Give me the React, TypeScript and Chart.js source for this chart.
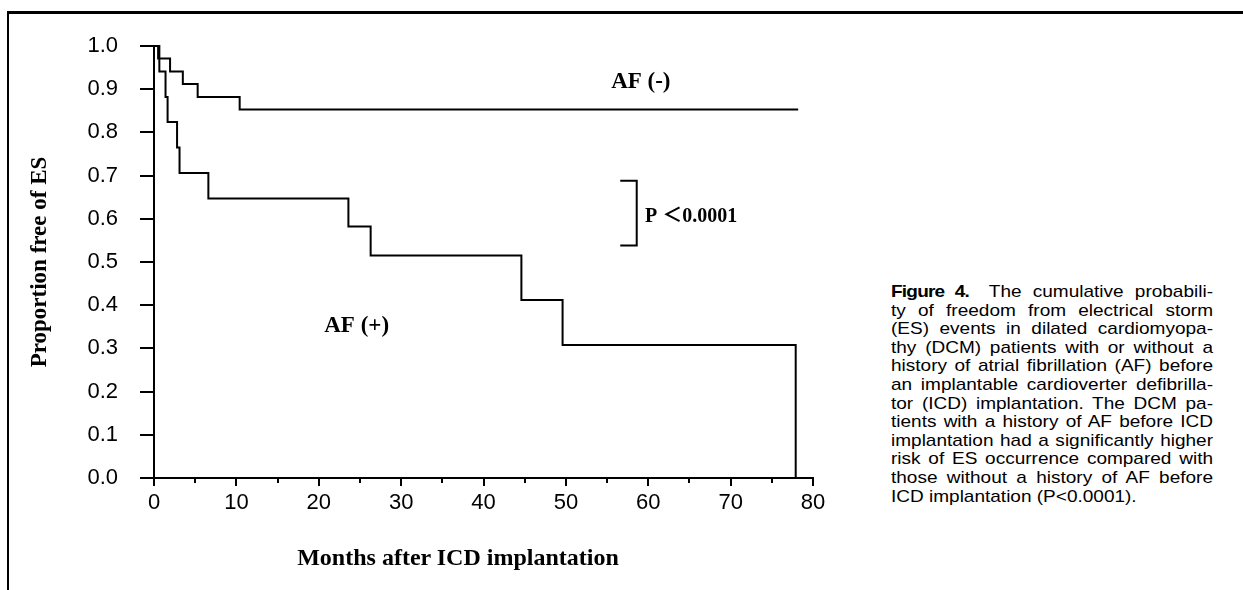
import React, { useEffect, useRef } from "react";
import { Chart, registerables } from "chart.js";

Chart.register(...registerables);

// ---- Data ----
const AF_NEG_MONTHS = [0, 0.5, 1.95, 3.5, 5.3, 10.4, 78.2];
const AF_NEG_SURV = [1, 0.971, 0.941, 0.912, 0.882, 0.853, 0.853];
const AF_POS_MONTHS = [0, 0.65, 1.4, 1.65, 2.8, 3.1, 6.6, 23.6, 26.3, 44.6, 49.6, 77.9];
const AF_POS_SURV = [1, 0.941, 0.882, 0.824, 0.765, 0.706, 0.647, 0.582, 0.515, 0.412, 0.308, 0];

const X_MIN = 0;
const X_MAX = 80;
const X_MAJOR_STEP = 10;
const X_MINOR_TICKS = [5, 15, 25, 35, 45, 55, 65, 75];
const Y_MIN = 0;
const Y_MAX = 1;
const Y_STEP = 0.1;

const SERIES_LABELS = ["AF (-)", "AF (+)"];
const P_TEXT = "P \uFF1C0.0001";
const X_TITLE = "Months after ICD implantation";
const Y_TITLE = "Proportion free of ES";

// annotation anchors in data units [month, proportion]
const LABEL_NEG_AT = [59.1, 0.917];
const LABEL_POS_AT = [24.6, 0.352];
const BRACKET_X = [56.6, 58.6];
const BRACKET_Y = [0.688, 0.538];
const P_TEXT_AT = [59.6, 0.604];

const CAPTION_HEAD = "Figure 4.";
const CAPTION_LINES = [
  "The cumulative probabili-",
  "ty of freedom from electrical storm",
  "(ES) events in dilated cardiomyopa-",
  "thy (DCM) patients with or without a",
  "history of atrial fibrillation (AF) before",
  "an implantable cardioverter defibrilla-",
  "tor (ICD) implantation. The DCM pa-",
  "tients with a history of AF before ICD",
  "implantation had a significantly higher",
  "risk of ES occurrence compared with",
  "those without a history of AF before",
  "ICD implantation (P<0.0001).",
];

const SERIF = '"Liberation Serif", "Times New Roman", "Noto Sans CJK JP", serif';
const SANS = '"Liberation Sans", Arial, sans-serif';

const annotationPlugin = {
  id: "kmAnnotations",
  afterDraw(chart: any) {
    const { ctx } = chart;
    const x = chart.scales.x;
    const y = chart.scales.y;
    ctx.save();
    ctx.strokeStyle = "#000";
    ctx.fillStyle = "#000";
    ctx.lineWidth = 2;
    const base = y.getPixelForValue(0);
    X_MINOR_TICKS.forEach((v) => {
      const px = Math.round(x.getPixelForValue(v));
      ctx.beginPath();
      ctx.moveTo(px, base);
      ctx.lineTo(px, base + 5);
      ctx.stroke();
    });
    ctx.font = `bold 23px ${SERIF}`;
    ctx.textAlign = "center";
    ctx.textBaseline = "middle";
    ctx.fillText(SERIES_LABELS[0], x.getPixelForValue(LABEL_NEG_AT[0]), y.getPixelForValue(LABEL_NEG_AT[1]));
    ctx.fillText(SERIES_LABELS[1], x.getPixelForValue(LABEL_POS_AT[0]), y.getPixelForValue(LABEL_POS_AT[1]));
    const bx0 = x.getPixelForValue(BRACKET_X[0]);
    const bx1 = x.getPixelForValue(BRACKET_X[1]);
    const by0 = y.getPixelForValue(BRACKET_Y[0]);
    const by1 = y.getPixelForValue(BRACKET_Y[1]);
    ctx.beginPath();
    ctx.moveTo(bx0, by0);
    ctx.lineTo(bx1, by0);
    ctx.lineTo(bx1, by1);
    ctx.lineTo(bx0, by1);
    ctx.stroke();
    ctx.font = `bold 20px ${SERIF}`;
    ctx.textAlign = "left";
    ctx.fillText(P_TEXT, x.getPixelForValue(P_TEXT_AT[0]), y.getPixelForValue(P_TEXT_AT[1]));
    ctx.restore();
  },
};

const CAPTION_INNER_WIDTH = 288;
const CAPTION_SCALE = 322 / 288;

export default function App() {
  const ref = useRef<HTMLCanvasElement>(null);

  useEffect(() => {
    if (!ref.current) return;
    const toPts = (xs: number[], ys: number[]) => xs.map((m, i) => ({ x: m, y: ys[i] }));
    const chart = new Chart(ref.current, {
      type: "line",
      data: {
        datasets: [
          {
            label: SERIES_LABELS[0],
            data: toPts(AF_NEG_MONTHS, AF_NEG_SURV),
            stepped: true,
            borderColor: "#000",
            borderWidth: 2,
            pointRadius: 0,
            fill: false,
            clip: false as any,
          },
          {
            label: SERIES_LABELS[1],
            data: toPts(AF_POS_MONTHS, AF_POS_SURV),
            stepped: true,
            borderColor: "#000",
            borderWidth: 2,
            pointRadius: 0,
            fill: false,
            clip: false as any,
          },
        ],
      },
      options: {
        animation: false,
        responsive: false,
        devicePixelRatio: 1,
        layout: { padding: { left: 0, top: 46, right: 47, bottom: 0 } },
        plugins: { legend: { display: false }, tooltip: { enabled: false } },
        scales: {
          x: {
            type: "linear",
            min: X_MIN,
            max: X_MAX,
            afterFit: (s: any) => {
              s.height = 112;
            },
            ticks: {
              stepSize: X_MAJOR_STEP,
              color: "#000",
              font: { family: SANS, size: 22 },
              padding: 4,
              maxRotation: 0,
            },
            grid: { drawOnChartArea: false, drawTicks: true, tickLength: 8, color: "#000", lineWidth: 2 },
            border: { display: true, color: "#000", width: 2 },
            title: { display: false, text: X_TITLE },
          },
          y: {
            type: "linear",
            min: Y_MIN,
            max: Y_MAX,
            afterFit: (s: any) => {
              s.width = 154;
            },
            ticks: {
              stepSize: Y_STEP,
              color: "#000",
              font: { family: SANS, size: 22 },
              padding: 22,
              callback: (v: any) => Number(v).toFixed(1),
            },
            grid: { drawOnChartArea: false, drawTicks: true, tickLength: 14, color: "#000", lineWidth: 2 },
            border: { display: true, color: "#000", width: 2 },
            title: {
              display: true,
              text: Y_TITLE,
              color: "#000",
              font: { family: SERIF, size: 23, weight: "bold" },
              padding: { top: 26, bottom: 0 },
            },
          },
        },
      },
      plugins: [annotationPlugin],
    } as any);
    return () => chart.destroy();
  }, []);

  return (
    <div
      style={{
        position: "fixed",
        left: 0,
        top: 0,
        width: 1243,
        height: 590,
        overflow: "hidden",
        background: "#fff",
      }}
    >
      <div style={{ position: "absolute", left: 7, top: 11, width: 1236, height: 3, background: "#000" }} />
      <div style={{ position: "absolute", left: 7, top: 11, width: 2, height: 579, background: "#000" }} />
      <canvas
        ref={ref}
        width={860}
        height={590}
        style={{ position: "absolute", left: 0, top: 0, width: 860, height: 590 }}
      />
      <div
        style={{
          position: "absolute",
          left: 458,
          top: 557,
          transform: "translate(-50%, -50%)",
          font: `bold 24px ${SERIF}`,
          whiteSpace: "nowrap",
          color: "#000",
        }}
      >
        {X_TITLE}
      </div>
      <div
        style={{
          position: "absolute",
          left: 891,
          top: 283,
          width: CAPTION_INNER_WIDTH,
          transform: `scaleX(${CAPTION_SCALE})`,
          transformOrigin: "left top",
          font: `17px ${SANS}`,
          lineHeight: "18.6px",
          color: "#000",
        }}
      >
        {CAPTION_LINES.map((line, i) => {
          const last = i === CAPTION_LINES.length - 1;
          return (
            <div
              key={i}
              style={{
                width: CAPTION_INNER_WIDTH,
                whiteSpace: "nowrap",
                textAlign: last ? "left" : "justify",
                textAlignLast: last ? "left" : "justify",
              }}
            >
              {i === 0 ? (
                <span style={{ fontWeight: "bold", letterSpacing: "-0.7px", marginRight: 8 }}>{CAPTION_HEAD}</span>
              ) : null}
              {i === 0 ? " " : null}
              {line}
            </div>
          );
        })}
      </div>
    </div>
  );
}
